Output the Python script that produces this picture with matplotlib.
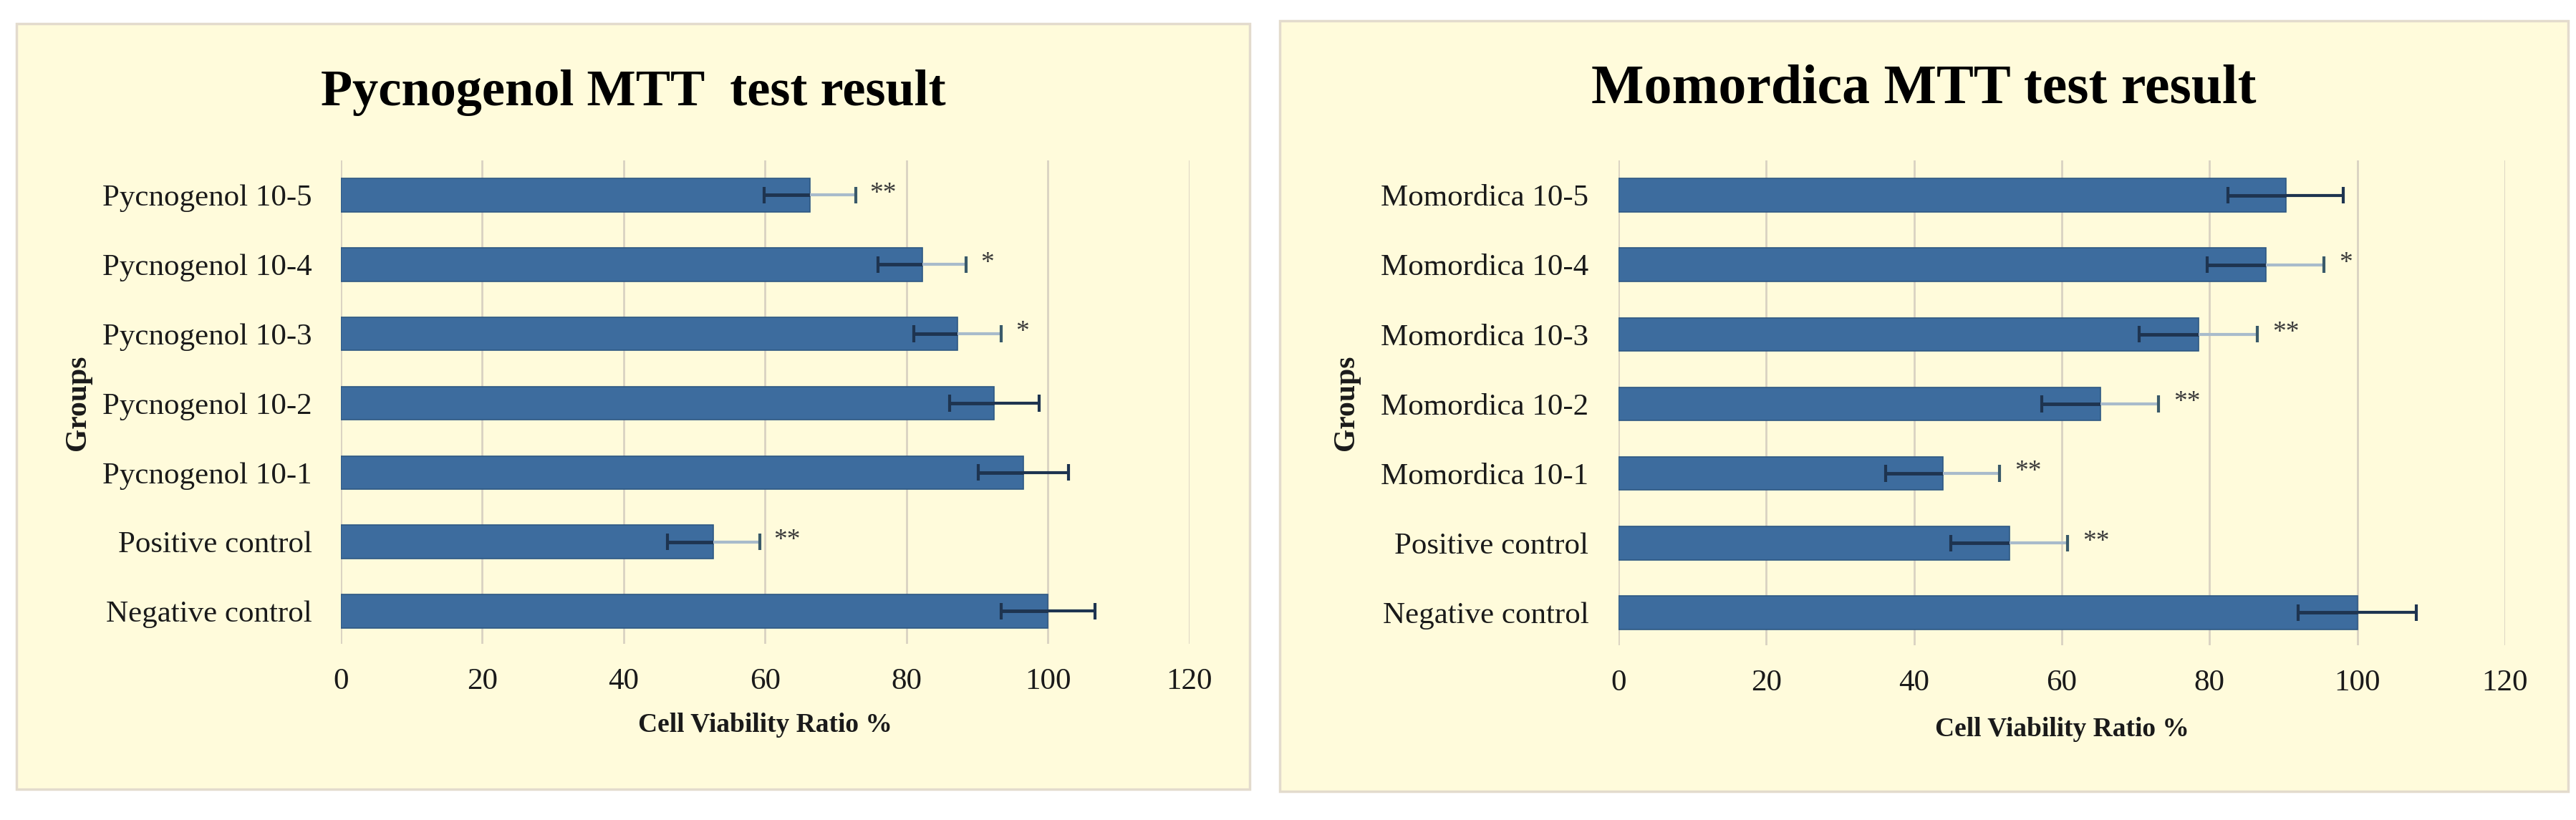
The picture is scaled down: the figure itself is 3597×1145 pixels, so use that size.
import matplotlib
matplotlib.use("Agg")
import matplotlib.pyplot as plt
from matplotlib.patches import Rectangle
import numpy as np

plt.rcParams['font.family'] = ['Liberation Serif', 'DejaVu Serif']

# data (bottom to top)
pyc_groups = ["Negative control", "Positive control", "Pycnogenol 10-1", "Pycnogenol 10-2",
              "Pycnogenol 10-3", "Pycnogenol 10-4", "Pycnogenol 10-5"]
pyc_values = [100, 52.7, 96.5, 92.4, 87.2, 82.2, 66.3]
pyc_errors = [6.6, 6.5, 6.4, 6.3, 6.2, 6.2, 6.5]
pyc_marks = ["", "**", "", "", "*", "*", "**"]

mom_groups = ["Negative control", "Positive control", "Momordica 10-1", "Momordica 10-2",
              "Momordica 10-3", "Momordica 10-4", "Momordica 10-5"]
mom_values = [100, 52.9, 43.9, 65.2, 78.5, 87.6, 90.3]
mom_errors = [8.0, 7.9, 7.7, 7.9, 8.0, 7.9, 7.8]
mom_marks = ["", "**", "**", "**", "**", "*", ""]

x_ticks = [0, 20, 40, 60, 80, 100, 120]

W, H = 3598, 1145
BG = '#FFFBDB'
BAR = '#3D6C9E'
DARK = '#1E3450'
LIGHT = '#A8BBCB'

fig = plt.figure(figsize=(W / 100, H / 100), dpi=100)
fig.patch.set_facecolor('white')


def px_rect(x0, y0, x1, y1):
    # pixel box (top-left origin) -> figure fraction
    return [x0 / W, 1 - y1 / H, (x1 - x0) / W, (y1 - y0) / H]


def panel(box, axbox, title, title_size, title_y, groups, values, errors, marks, groups_x, xlabel_y, ypad):
    l, b, w, h = px_rect(*box)
    fig.patches.append(Rectangle((l, b), w, h, transform=fig.transFigure,
                                 facecolor=BG, edgecolor='#E3DBCD', linewidth=2.5, zorder=-5))
    ax = fig.add_axes(px_rect(*axbox))
    ax.set_zorder(2)
    ax.set_facecolor('none')
    y = np.arange(len(groups))
    ax.barh(y, values, height=0.48, color=BAR, edgecolor='#2E5883', linewidth=1.2, zorder=3)
    for yi, v, e, m in zip(y, values, errors, marks):
        outer = LIGHT if m else DARK
        ax.hlines(yi, v - e, v, color=DARK, linewidth=3.5, zorder=4)
        ax.hlines(yi, v, v + e, color=outer, linewidth=3, zorder=4)
        ax.vlines(v - e, yi - 0.12, yi + 0.12, color=DARK, linewidth=3, zorder=4)
        ax.vlines(v + e, yi - 0.12, yi + 0.12, color=DARK if not m else '#3A5A6A',
                  linewidth=3, zorder=4)
        if m:
            ax.text(v + e + 2, yi + 0.02, m, fontsize=27, color='#3A3A3A',
                    va='center', ha='left', zorder=5)
    ax.set_xlim(0, 120)
    ax.set_ylim(-0.47, len(groups) - 0.5)
    ax.set_xticks(x_ticks)
    ax.set_xticklabels([str(t) for t in x_ticks])
    ax.set_yticks(y)
    ax.set_yticklabels(groups)
    ax.tick_params(axis='both', length=0, labelsize=31, colors='#1A1A1A')
    ax.tick_params(axis='x', pad=24)
    ax.tick_params(axis='y', pad=ypad)
    ax.grid(axis='x', color='#D9D2C2', linewidth=2, zorder=0)
    ax.set_axisbelow(True)
    for s in ax.spines.values():
        s.set_visible(False)
    cx = (box[0] + box[2]) / 2 / W
    fig.text(cx, 1 - title_y / H, title, fontsize=title_size, fontweight='bold',
             ha='center', va='baseline', color='black')
    ax_l = axbox[0] / W
    ax_r = axbox[2] / W
    fig.text((ax_l + ax_r) / 2, 1 - xlabel_y / H, "Cell Viability Ratio %", fontsize=27,
             fontweight='bold', ha='center', va='center', color='#1A1A1A')
    fig.text(groups_x / W, 1 - 562 / H, "Groups", fontsize=30, fontweight='bold',
             rotation=90, ha='center', va='center', color='#1A1A1A')
    return ax


panel((23, 33, 1745, 1102), (476, 224, 1661, 899), "Pycnogenol MTT  test result", 52, 147,
      pyc_groups, pyc_values, pyc_errors, pyc_marks, 109, 1012, 29)
panel((1787, 29, 3586, 1105), (2260, 224, 3498, 901), "Momordica MTT test result", 56, 143,
      mom_groups, mom_values, mom_errors, mom_marks, 1880, 1018, 30)

fig.savefig("out.png", dpi=100, facecolor='white')
